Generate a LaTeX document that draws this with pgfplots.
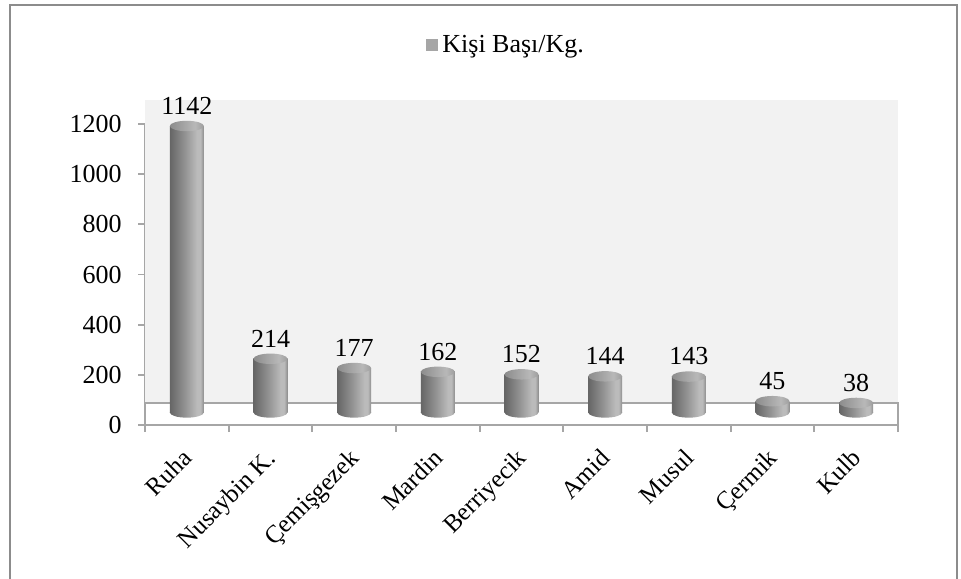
\documentclass[border=0pt]{standalone}
\usepackage{fontspec}
\setmainfont{Liberation Serif}
\usepackage{pgfplots}
\pgfplotsset{compat=1.18}
\definecolor{wall}{HTML}{F2F2F2}
\definecolor{axgray}{HTML}{A6A6A6}
\definecolor{framegray}{HTML}{8C8C8C}
\definecolor{legendgray}{HTML}{A6A6A6}
\definecolor{cA}{HTML}{666666}
\definecolor{cB}{HTML}{8E8E8E}
\definecolor{cC}{HTML}{BBBBBB}
\definecolor{cD}{HTML}{8C8C8C}
\definecolor{tA}{HTML}{8C8C8C}
\definecolor{tB}{HTML}{B8B8B8}
\definecolor{tC}{HTML}{9E9E9E}
\pgfdeclarehorizontalshading{cyl}{100bp}{color(0bp)=(cA); color(25bp)=(cA); color(45bp)=(cB); color(65bp)=(cC); color(70bp)=(cC); color(75bp)=(cD); color(100bp)=(cD)}
\pgfdeclarehorizontalshading{captop}{100bp}{color(0bp)=(tA); color(25bp)=(tA); color(62bp)=(tB); color(75bp)=(tC); color(100bp)=(tC)}
\pgfdeclareplotmark{cyltop}{%
  \pgfpathellipse{\pgfpointorigin}{\pgfqpoint{8.5pt}{0pt}}{\pgfqpoint{0pt}{2.6pt}}%
  \pgfshadepath{captop}{0}\pgfusepath{discard}}
\pgfdeclareplotmark{cylbot}{%
  \pgfpathellipse{\pgfpointorigin}{\pgfqpoint{8.5pt}{0pt}}{\pgfqpoint{0pt}{2.6pt}}%
  \pgfshadepath{cyl}{0}\pgfusepath{discard}}
\pgfplotsset{cylbar/.style={ybar, bar width=17pt, draw=none, shade, shading=cyl, mark=cyltop,
  nodes near coords,
  every node near coord/.append style={font=\fontsize{13}{15}\selectfont, black, yshift=2.2pt}}}
\begin{document}
\begin{tikzpicture}
\path[use as bounding box] (0,0) rectangle (480.5pt,289pt);
\draw[framegray, line width=0.8pt] (5pt,-2pt) -- (5pt,286.5pt) -- (478.5pt,286.5pt) -- (478.5pt,-2pt);
\begin{axis}[
  at={(72.5pt,76.5pt)}, anchor=south west, scale only axis,
  width=376.5pt, height=150.5pt,
  xmin=-0.5, xmax=8.5, ymin=-50, ymax=1150,
  clip=false,
  axis x line*=bottom, axis y line*=left,
  axis line style={axgray, line width=0.9pt},
  tick style={axgray, line width=0.9pt},
  tick align=outside, major tick length=3.5pt,
  xtick={-0.5,0.5,...,8.5}, xticklabel=\empty,
  extra x ticks={0,1,2,3,4,5,6,7,8},
  extra x tick labels={Ruha,Nusaybin K.,Çemişgezek,Mardin,Berriyecik,Amid,Musul,Çermik,Kulb},
  extra x tick style={major tick length=0pt,
    xticklabel style={xshift=-3pt, yshift=-11pt, rotate=45, anchor=north east, inner sep=0pt,
      font=\fontsize{12.5}{15}\selectfont}},
  ytick={-50,150,350,550,750,950,1150},
  yticklabels={0,200,400,600,800,1000,1200},
  yticklabel style={inner sep=0pt, xshift=-8pt},
  tick label style={font=\fontsize{13}{15}\selectfont},
  /pgf/number format/assume math mode=true,
  /pgf/number format/1000 sep={},
  legend style={at={(0.481,1.262)}, anchor=center, draw=none, fill=none,
    font=\fontsize{13}{15}\selectfont, inner sep=0pt},
  legend image code/.code={\pgfsetfillcolor{legendgray}\pgfpathrectangle{\pgfqpoint{0pt}{-3pt}}{\pgfqpoint{6pt}{6pt}}\pgfusepath{fill}},
  legend cell align=left,
]
\fill[wall] (axis cs:-0.5,38) rectangle (axis cs:8.5,1246);
\draw[axgray, line width=0.9pt] (axis cs:-0.5,38) -- (axis cs:8.5,38) -- (axis cs:8.5,-50);
\addplot[only marks, mark=cylbot, forget plot] coordinates {
  (0,0) (1,0) (2,0) (3,0) (4,0) (5,0) (6,0) (7,0) (8,0)};
\addplot[cylbar] coordinates {(0,1142)};
\addlegendentry{Kişi Başı/Kg.}
\addplot[cylbar, forget plot] coordinates {(1,214)};
\addplot[cylbar, forget plot] coordinates {(2,177)};
\addplot[cylbar, forget plot] coordinates {(3,162)};
\addplot[cylbar, forget plot] coordinates {(4,152)};
\addplot[cylbar, forget plot] coordinates {(5,144)};
\addplot[cylbar, forget plot] coordinates {(6,143)};
\addplot[cylbar, forget plot] coordinates {(7,45)};
\addplot[cylbar, forget plot] coordinates {(8,38)};
\end{axis}
\end{tikzpicture}
\end{document}
